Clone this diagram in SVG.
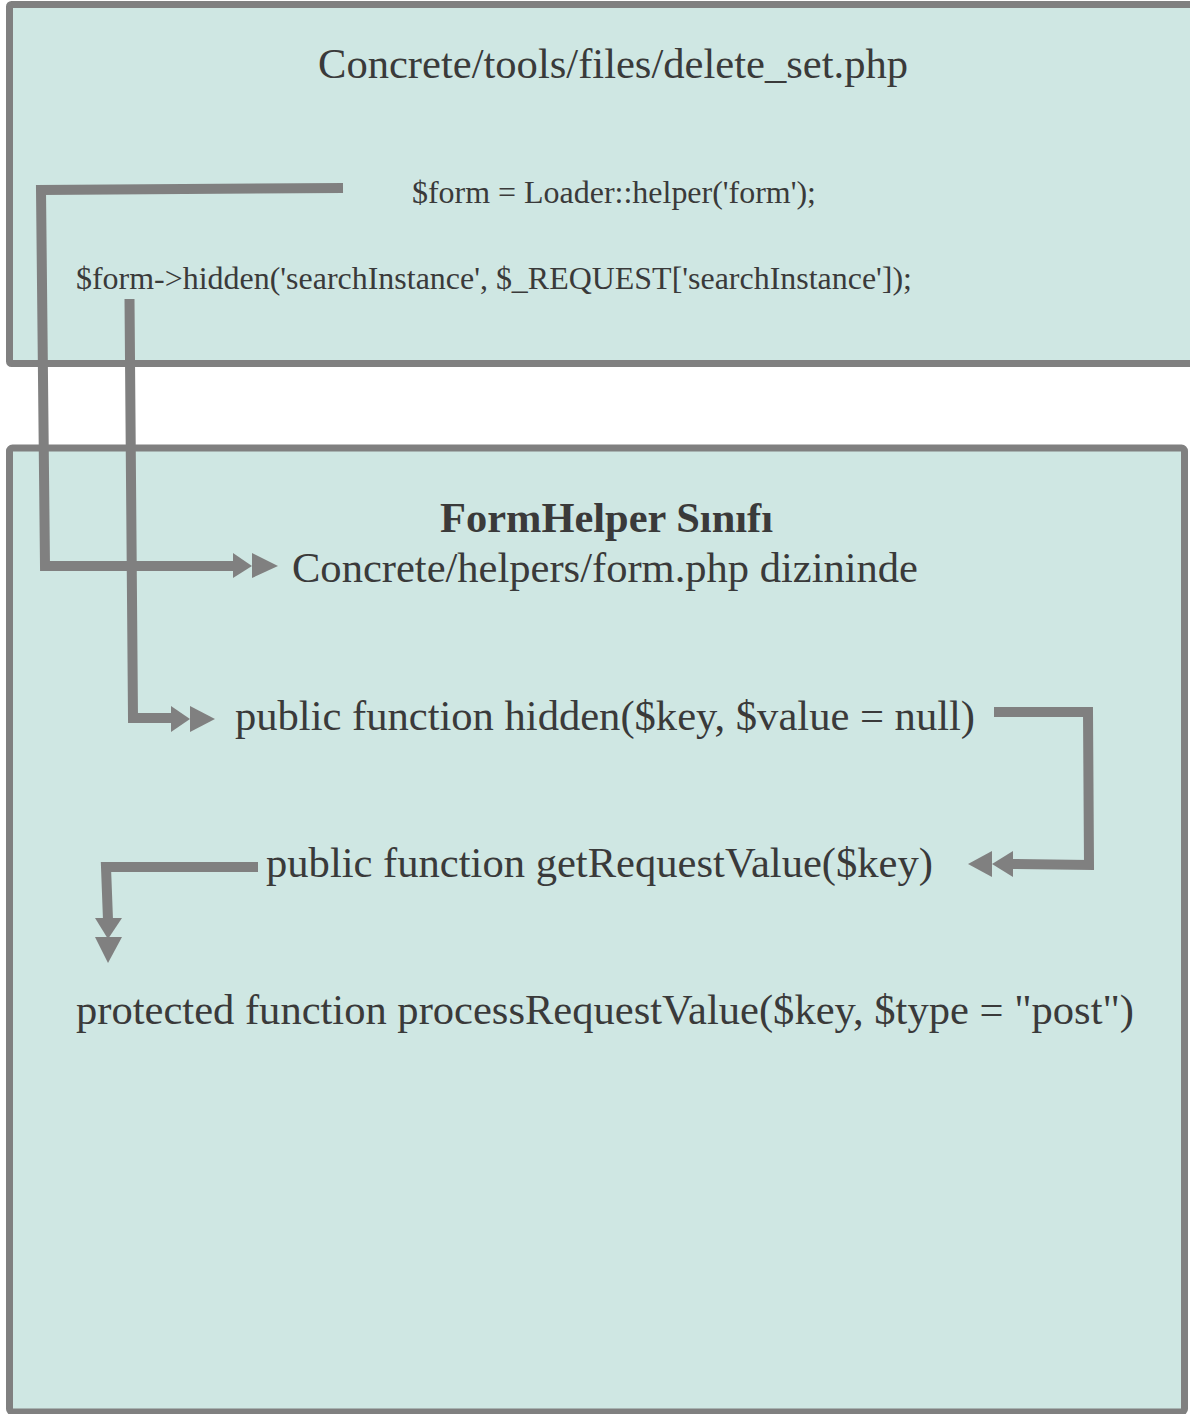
<svg xmlns="http://www.w3.org/2000/svg" width="1190" height="1414" viewBox="0 0 1190 1414">
<style>
.box{fill:#cfe7e3;stroke:#808080;stroke-width:7}
.t{font-family:"Liberation Serif","Times New Roman",serif;fill:#3a3a3a}
.c{fill:none;stroke:#808080;stroke-width:10;stroke-linejoin:miter}
.h{fill:#808080}
</style>
<rect width="1190" height="1414" fill="#ffffff"/>
<g id="node-file">
<rect class="box" x="9.5" y="4.5" width="1200" height="359" rx="2"/>
<text class="t" x="318" y="78" font-size="42" textLength="590" lengthAdjust="spacingAndGlyphs">Concrete/tools/files/delete_set.php</text>
<text class="t" x="412" y="203" font-size="32" textLength="404" lengthAdjust="spacingAndGlyphs">$form = Loader::helper('form');</text>
<text class="t" x="76" y="289" font-size="32" textLength="836" lengthAdjust="spacingAndGlyphs">$form-&gt;hidden('searchInstance', $_REQUEST['searchInstance']);</text>
</g>
<g id="node-formhelper">
<rect class="box" x="9.5" y="448" width="1175" height="964" rx="3"/>
<text class="t" x="440" y="532" font-size="42" font-weight="bold" textLength="333" lengthAdjust="spacingAndGlyphs">FormHelper Sınıfı</text>
<text class="t" x="292" y="582" font-size="42" textLength="626" lengthAdjust="spacingAndGlyphs">Concrete/helpers/form.php dizininde</text>
<text class="t" x="235" y="730" font-size="42" textLength="740" lengthAdjust="spacingAndGlyphs">public function hidden($key, $value = null)</text>
<text class="t" x="266" y="877" font-size="42" textLength="667" lengthAdjust="spacingAndGlyphs">public function getRequestValue($key)</text>
<text class="t" x="76" y="1024" font-size="42" textLength="1058" lengthAdjust="spacingAndGlyphs">protected function processRequestValue($key, $type = "post")</text>
</g>
<g id="connectors">
<polyline class="c" points="343,188 41,190 45,566 235,566"/>
<polygon class="h" points="233,553 252,566 233,578"/>
<polygon class="h" points="252,553 278,566 252,578"/>
<polyline class="c" points="129.5,299 133,718 173,718"/>
<polygon class="h" points="171,706 190,719 171,732"/>
<polygon class="h" points="190,706 215,719 190,732"/>
<polyline class="c" points="994,712 1088,712 1089,865 1012,864"/>
<polygon class="h" points="1013,851 992,864 1013,877"/>
<polygon class="h" points="992,851 968,864 992,877"/>
<polyline class="c" points="258,867 106,867 108,920"/>
<polygon class="h" points="95,918 122,918 108,939"/>
<polygon class="h" points="95,937 122,937 108,963"/>
</g>
</svg>
